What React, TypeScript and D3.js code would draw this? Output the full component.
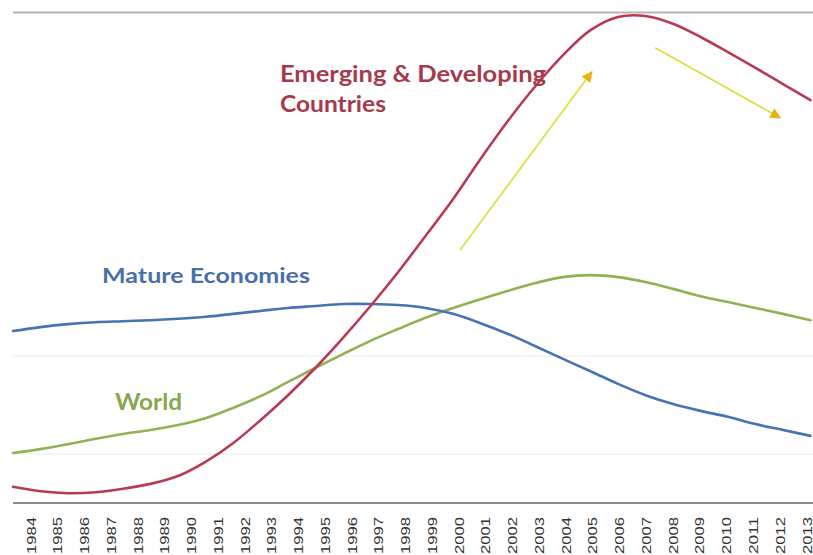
import React from 'react';
import * as d3 from 'd3';

const years = [1984, 1985, 1986, 1987, 1988, 1989, 1990, 1991, 1992, 1993, 1994, 1995, 1996, 1997, 1998, 1999, 2000, 2001, 2002, 2003, 2004, 2005, 2006, 2007, 2008, 2009, 2010, 2011, 2012, 2013];

const emerging = [-0.67, -0.76, -0.8, -0.78, -0.71, -0.61, -0.45, -0.16, 0.22, 0.69, 1.2, 1.76, 2.37, 3.02, 3.71, 4.45, 5.2, 6.02, 6.8, 7.51, 8.14, 8.65, 8.92, 8.94, 8.78, 8.51, 8.2, 7.88, 7.55, 7.22];
const mature = [2.51, 2.59, 2.65, 2.69, 2.71, 2.73, 2.76, 2.8, 2.86, 2.92, 2.98, 3.02, 3.06, 3.06, 3.04, 2.98, 2.86, 2.67, 2.45, 2.2, 1.94, 1.69, 1.43, 1.2, 1.02, 0.88, 0.76, 0.61, 0.49, 0.37];
const world = [0.02, 0.1, 0.2, 0.31, 0.41, 0.49, 0.59, 0.73, 0.94, 1.18, 1.47, 1.76, 2.04, 2.31, 2.55, 2.78, 2.98, 3.16, 3.33, 3.49, 3.61, 3.65, 3.61, 3.51, 3.37, 3.22, 3.1, 2.98, 2.86, 2.73];

const gridValues = [0, 2];
const yDomain = [-1, 9];

// annotation arrows in data coordinates: [year, value] -> [year, value]
const arrowUp = [[2000.25, 4.16], [2005.05, 7.8]];
const arrowDown = [[2007.35, 8.29], [2011.9, 6.86]];

export default function App() {
  const W = 813;
  const H = 555;
  const x = d3.scaleLinear().domain([1984, 2013]).range([13, 810.5]);
  const xLabel = d3.scaleLinear().domain([1984, 2013]).range([31, 807]);
  const y = d3.scaleLinear().domain(yDomain).range([503, 13]);

  const line = d3
    .line<number>()
    .x((_, i) => x(years[i]))
    .y((d) => y(d))
    .curve(d3.curveCatmullRom.alpha(0.5));

  const series = [
    { name: 'world', values: world, color: '#93b153' },
    { name: 'mature', values: mature, color: '#4772b4' },
    { name: 'emerging', values: emerging, color: '#b83a52' },
  ];

  const arrows = [arrowUp, arrowDown];

  return (
    <svg
      width={W}
      height={H}
      style={{ position: 'absolute', left: 0, top: 0, background: '#fff' }}
      xmlns="http://www.w3.org/2000/svg"
    >
      <defs>
        <marker
          id="ah"
          viewBox="0 0 10 10"
          refX="9"
          refY="5"
          markerWidth="11"
          markerHeight="11"
          markerUnits="userSpaceOnUse"
          orient="auto"
        >
          <path d="M0,0 L10,5 L0,10 z" fill="#e6b417" />
        </marker>
      </defs>
      <rect x={0} y={0} width={W} height={H} fill="#fff" />
      {gridValues.map((g) => (
        <line key={g} x1={13} x2={813} y1={y(g)} y2={y(g)} stroke="#ececec" strokeWidth={1} />
      ))}
      <line x1={13} x2={813} y1={12.5} y2={12.5} stroke="#b4b4b4" strokeWidth={2} />
      <line x1={13} x2={813} y1={503} y2={503} stroke="#8a8a8a" strokeWidth={1.8} />

      {series.map((s) => (
        <path
          key={s.name}
          d={line(s.values) || ''}
          fill="none"
          stroke={s.color}
          strokeWidth={2.6}
          strokeLinejoin="round"
          strokeLinecap="round"
        />
      ))}

      {arrows.map((a, i) => (
        <line
          key={i}
          x1={x(a[0][0])}
          y1={y(a[0][1])}
          x2={x(a[1][0])}
          y2={y(a[1][1])}
          stroke="#dcdc3a"
          strokeWidth={1.6}
          markerEnd="url(#ah)"
        />
      ))}

      <g fontFamily="Lato, 'Open Sans', sans-serif" fontWeight={700}>
        <text x={280} y={82} fontSize={23} fill="#a63a4d" textLength={266} lengthAdjust="spacingAndGlyphs">
          Emerging &amp; Developing
        </text>
        <text x={280} y={112} fontSize={23} fill="#a63a4d" textLength={106} lengthAdjust="spacingAndGlyphs">
          Countries
        </text>
        <text x={102} y={283} fontSize={21} fill="#4a6fa8" textLength={208} lengthAdjust="spacingAndGlyphs">
          Mature Economies
        </text>
        <text x={115} y={410} fontSize={22} fill="#8aa64c" textLength={67} lengthAdjust="spacingAndGlyphs">
          World
        </text>
      </g>

      <g fontFamily="'Liberation Sans', Arial, sans-serif" fontSize={13} fill="#333">
        {years.map((yr) => (
          <text
            key={yr}
            transform={`translate(${xLabel(yr)},517) rotate(-90)`}
            textAnchor="end"
            dominantBaseline="central"
            textLength={37}
            lengthAdjust="spacingAndGlyphs"
          >
            {yr}
          </text>
        ))}
      </g>
    </svg>
  );
}
